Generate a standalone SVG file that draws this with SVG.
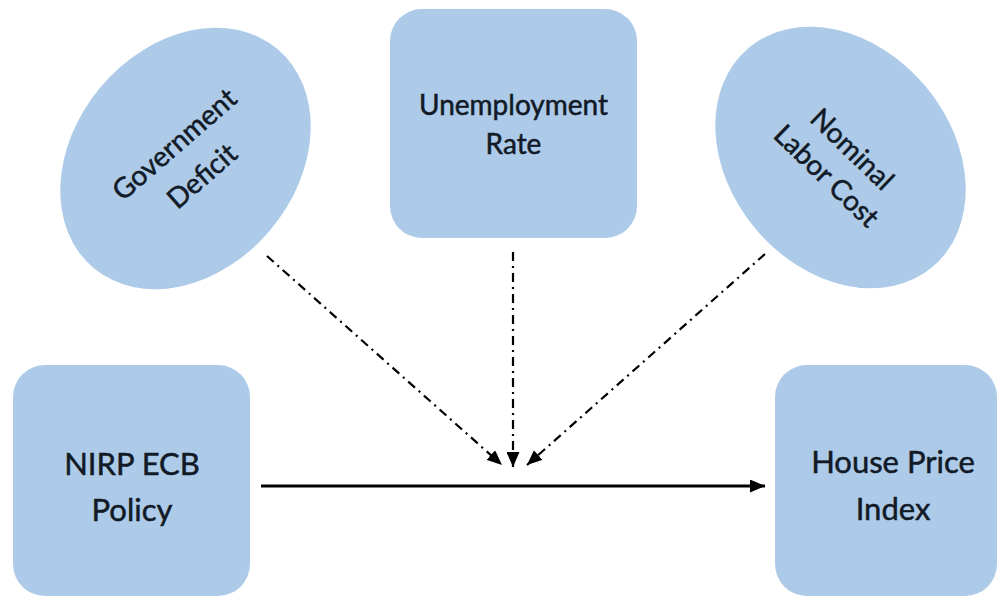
<svg xmlns="http://www.w3.org/2000/svg" width="1000" height="604" viewBox="0 0 1000 604">
  <defs>
    <style>
      .shape { fill: #adcbe8; }
      .label { font-family: Lato, "Open Sans", "Liberation Sans", sans-serif; fill: #111a26; stroke: #111a26; stroke-width: 0.5; text-anchor: middle; }
      .small { font-size: 28px; }
      .big { font-size: 31px; }
      .moderator { fill: none; stroke: #000; stroke-width: 2.2; stroke-dasharray: 9 5 2 5; }
      .main { fill: none; stroke: #000; stroke-width: 2.8; }
    </style>
    <marker id="head" markerUnits="userSpaceOnUse" markerWidth="15" markerHeight="13" refX="15" refY="6.5" orient="auto">
      <path d="M0,0 L15,6.5 L0,13 z" fill="#000"/>
    </marker>
  </defs>

  <rect width="1000" height="604" fill="#fff"/>

  <!-- moderators -->
  <g id="government-deficit">
    <ellipse class="shape" cx="185.5" cy="158.5" rx="143" ry="111" transform="rotate(-50 185.5 158.5)"/>
    <g transform="translate(188 160) rotate(-41)">
      <text class="label small" x="0" y="-11">Government</text>
      <text class="label small" x="0" y="31">Deficit</text>
    </g>
  </g>

  <g id="unemployment-rate">
    <rect class="shape" x="390" y="9" width="247" height="229" rx="32" ry="32"/>
    <text class="label small" x="513.5" y="115">Unemployment</text>
    <text class="label small" x="513.5" y="154">Rate</text>
  </g>

  <g id="nominal-labor-cost">
    <ellipse class="shape" cx="840.5" cy="157.5" rx="143" ry="111" transform="rotate(50 840.5 157.5)"/>
    <g transform="translate(840 162) rotate(44)">
      <text class="label small" x="0" y="-8">Nominal</text>
      <text class="label small" x="0" y="29">Labor Cost</text>
    </g>
  </g>

  <!-- cause and effect -->
  <g id="nirp-ecb-policy">
    <rect class="shape" x="13" y="365" width="237" height="231" rx="32" ry="32"/>
    <text class="label big" x="132" y="475">NIRP ECB</text>
    <text class="label big" x="132" y="521">Policy</text>
  </g>

  <g id="house-price-index">
    <rect class="shape" x="775" y="365" width="222" height="231" rx="32" ry="32"/>
    <text class="label big" x="893" y="473">House Price</text>
    <text class="label big" x="893" y="520">Index</text>
  </g>

  <!-- connectors -->
  <g id="connectors">
    <line class="main" x1="261" y1="486" x2="765" y2="486" marker-end="url(#head)"/>
    <line class="moderator" x1="267" y1="256" x2="502" y2="465" marker-end="url(#head)"/>
    <line class="moderator" x1="513" y1="252" x2="513" y2="467" marker-end="url(#head)"/>
    <line class="moderator" x1="765" y1="254" x2="527" y2="465" marker-end="url(#head)"/>
  </g>
</svg>
